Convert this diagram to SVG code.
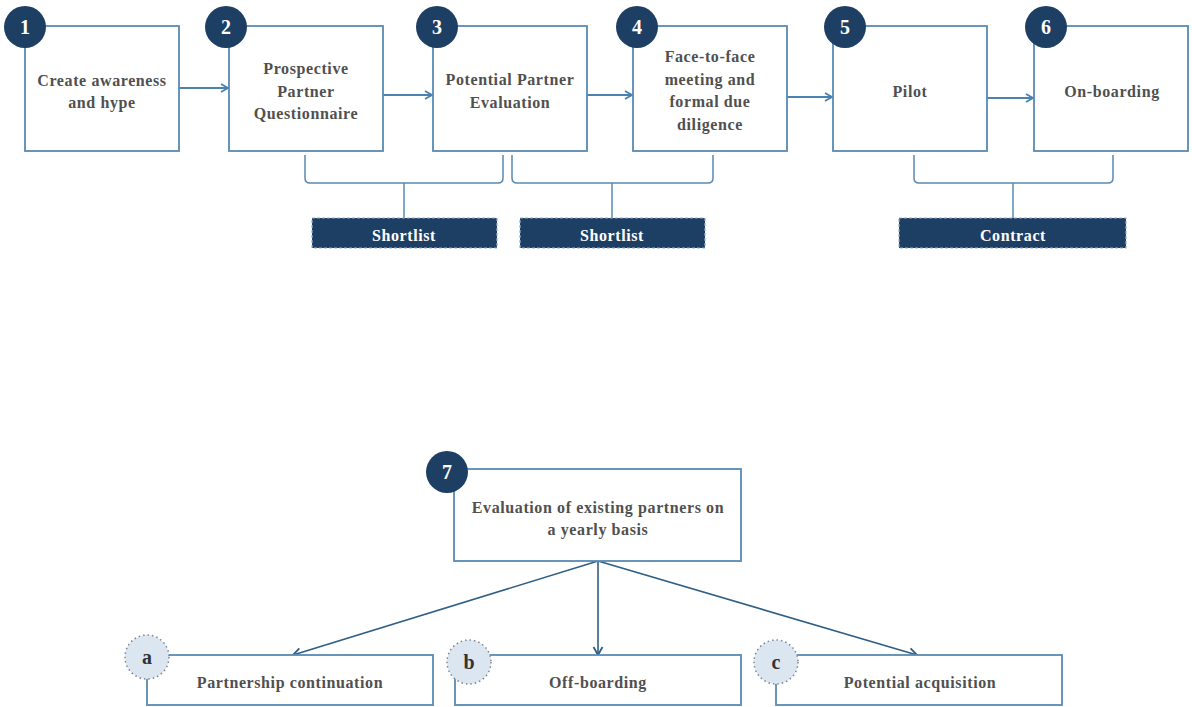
<svg xmlns="http://www.w3.org/2000/svg" width="1192" height="707" viewBox="0 0 1192 707">
<style>
.box{fill:#fff;stroke:#5a8ab3;stroke-width:1.8}
.num{fill:#1e3f64}
.numt{fill:#fff;font-size:20px}
.t{fill:#505050;font-size:16px;letter-spacing:0.6px}
.conn{fill:none;stroke:#4a82b0;stroke-width:1.8}
.br{fill:none;stroke:#5a8ab3;stroke-width:1.5}
.tag{fill:#1e3f64;stroke:#9ab0c8;stroke-width:1.2;stroke-dasharray:3 2}
.tagt{fill:#fff;font-size:16px;letter-spacing:0.6px}
.sub{fill:#dce6f1;stroke:#7a8796;stroke-width:1.5;stroke-dasharray:1.5 3}
.subt{fill:#333;font-size:20px}
.conn2{fill:none;stroke:#2f5f85;stroke-width:1.6}
</style>
<defs>
<marker id="ar" viewBox="0 0 10 10" refX="9" refY="5" markerWidth="10" markerHeight="10" markerUnits="userSpaceOnUse" orient="auto">
<path d="M2,1 L9,5 L2,9" fill="none" stroke="#4a82b0" stroke-width="1.8"/>
</marker>
<marker id="ar2" viewBox="0 0 12 12" refX="11" refY="6" markerWidth="12" markerHeight="12" markerUnits="userSpaceOnUse" orient="auto">
<path d="M3,1.5 L11,6 L3,10.5" fill="none" stroke="#2f5f85" stroke-width="1.8"/>
</marker>
</defs>

<g id="connectors">
<line class="conn" x1="179" y1="88" x2="228" y2="88" marker-end="url(#ar)"/>
<line class="conn" x1="383" y1="95" x2="432" y2="95" marker-end="url(#ar)"/>
<line class="conn" x1="587" y1="95" x2="632" y2="95" marker-end="url(#ar)"/>
<line class="conn" x1="787" y1="97" x2="832" y2="97" marker-end="url(#ar)"/>
<line class="conn" x1="987" y1="98" x2="1033" y2="98" marker-end="url(#ar)"/>
<path class="br" d="M305,155 V178 Q305,183 310,183 H498 Q503,183 503,178 V155"/>
<line class="br" x1="404" y1="183" x2="404" y2="218"/>
<path class="br" d="M512,155 V178 Q512,183 517,183 H708 Q713,183 713,178 V155"/>
<line class="br" x1="612" y1="183" x2="612" y2="218"/>
<path class="br" d="M914,155 V178 Q914,183 919,183 H1108 Q1113,183 1113,178 V155"/>
<line class="br" x1="1013" y1="183" x2="1013" y2="218"/>
<line class="conn2" x1="598" y1="561" x2="293" y2="655" marker-end="url(#ar2)"/>
<line class="conn2" x1="598" y1="561" x2="598" y2="655" marker-end="url(#ar2)"/>
<line class="conn2" x1="598" y1="561" x2="917" y2="655" marker-end="url(#ar2)"/>
</g>

<g font-family="'Liberation Serif', 'Times New Roman', serif" font-weight="bold" text-anchor="middle">
<g id="node1">
<rect class="box" x="25" y="26" width="154" height="125"/>
<circle class="num" cx="25" cy="27" r="21"/>
<text class="numt" x="25" y="34">1</text>
<text class="t" x="102" y="86">Create awareness</text>
<text class="t" x="102" y="108">and hype</text>
</g>
<g id="node2">
<rect class="box" x="229" y="26" width="154" height="125"/>
<circle class="num" cx="226" cy="27" r="21"/>
<text class="numt" x="226" y="34">2</text>
<text class="t" x="306" y="74">Prospective</text>
<text class="t" x="306" y="97">Partner</text>
<text class="t" x="306" y="119">Questionnaire</text>
</g>
<g id="node3">
<rect class="box" x="433" y="26" width="154" height="125"/>
<circle class="num" cx="437" cy="27" r="21"/>
<text class="numt" x="437" y="34">3</text>
<text class="t" x="510" y="85">Potential Partner</text>
<text class="t" x="510" y="108">Evaluation</text>
</g>
<g id="node4">
<rect class="box" x="633" y="26" width="154" height="125"/>
<circle class="num" cx="637" cy="27" r="21"/>
<text class="numt" x="637" y="34">4</text>
<text class="t" x="710" y="62">Face-to-face</text>
<text class="t" x="710" y="85">meeting and</text>
<text class="t" x="710" y="107">formal due</text>
<text class="t" x="710" y="130">diligence</text>
</g>
<g id="node5">
<rect class="box" x="833" y="26" width="154" height="125"/>
<circle class="num" cx="845" cy="27" r="21"/>
<text class="numt" x="845" y="34">5</text>
<text class="t" x="910" y="97">Pilot</text>
</g>
<g id="node6">
<rect class="box" x="1034" y="26" width="154" height="125"/>
<circle class="num" cx="1046" cy="27" r="21"/>
<text class="numt" x="1046" y="34">6</text>
<text class="t" x="1112" y="97">On-boarding</text>
</g>

<g id="shortlist1">
<rect class="tag" x="312" y="218" width="185" height="30"/>
<text class="tagt" x="404" y="241">Shortlist</text>
</g>
<g id="shortlist2">
<rect class="tag" x="520" y="218" width="185" height="30"/>
<text class="tagt" x="612" y="241">Shortlist</text>
</g>
<g id="contract">
<rect class="tag" x="899" y="218" width="227" height="30"/>
<text class="tagt" x="1013" y="241">Contract</text>
</g>

<g id="node7">
<rect class="box" x="454" y="469" width="287" height="92"/>
<circle class="num" cx="447" cy="472" r="21"/>
<text class="numt" x="447" y="479">7</text>
<text class="t" x="598" y="513">Evaluation of existing partners on</text>
<text class="t" x="598" y="535">a yearly basis</text>
</g>

<g id="nodeA">
<rect class="box" x="147" y="655" width="286" height="50"/>
<circle class="sub" cx="147" cy="657" r="22"/>
<text class="subt" x="147" y="664">a</text>
<text class="t" x="290" y="688">Partnership continuation</text>
</g>
<g id="nodeB">
<rect class="box" x="455" y="655" width="286" height="50"/>
<circle class="sub" cx="469" cy="662" r="22"/>
<text class="subt" x="469" y="669">b</text>
<text class="t" x="598" y="688">Off-boarding</text>
</g>
<g id="nodeC">
<rect class="box" x="776" y="655" width="286" height="50"/>
<circle class="sub" cx="776" cy="662" r="22"/>
<text class="subt" x="776" y="669">c</text>
<text class="t" x="920" y="688">Potential acquisition</text>
</g>
</g>
</svg>
